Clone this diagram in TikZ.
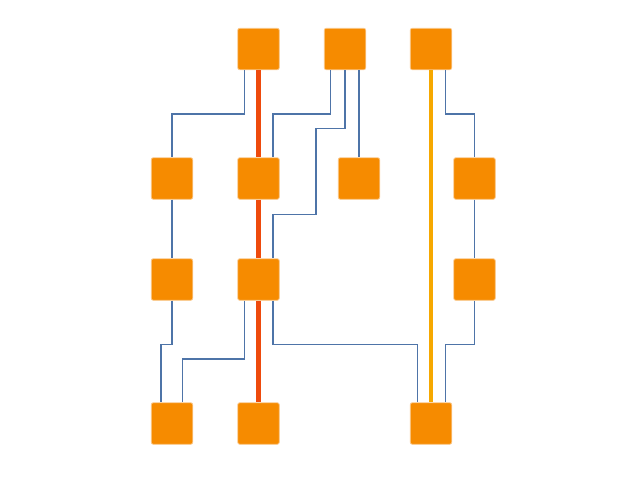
\documentclass[tikz,border=0pt]{standalone}
\usepackage{tikz}

\definecolor{boxorange}{RGB}{246,139,0}
\definecolor{boxedge}{RGB}{250,200,140}
\definecolor{trunkred}{RGB}{238,74,12}
\definecolor{trunkamber}{RGB}{246,168,0}
\definecolor{wireblue}{RGB}{78,116,168}

\tikzset{
  unit/.style={rectangle, fill=boxorange, draw=boxedge, line width=0.8pt,
    rounded corners=2pt, minimum size=41.5pt, inner sep=0pt},
  wire/.style={draw=wireblue, line width=1.5pt},
  trunk/.style={line width=4.5pt}
}

\begin{document}
\begin{tikzpicture}[x=1pt, y=-1pt]
  \useasboundingbox (0,0) rectangle (640,480);

  % top row
  \node[unit] (a1) at (258.5,49) {};
  \node[unit] (a2) at (345,49) {};
  \node[unit] (a3) at (431,49) {};

  % second row
  \node[unit] (b1) at (172,178.5) {};
  \node[unit] (b2) at (258.5,178.5) {};
  \node[unit] (b3) at (359,178.5) {};
  \node[unit] (b4) at (474.5,178.5) {};

  % third row
  \node[unit] (c1) at (172,279.5) {};
  \node[unit] (c2) at (258.5,279.5) {};
  \node[unit] (c4) at (474.5,279.5) {};

  % bottom row
  \node[unit] (d1) at (172,423.5) {};
  \node[unit] (d2) at (258.5,423.5) {};
  \node[unit] (d3) at (431,423.5) {};

  % thick trunks
  \draw[trunk, trunkred] (a1.south) -- (b2.north);
  \draw[trunk, trunkred] (b2.south) -- (c2.north);
  \draw[trunk, trunkred] (c2.south) -- (d2.north);
  \draw[trunk, trunkamber] (a3.south) -- (d3.north);

  % thin links
  \draw[wire] ([xshift=-14.2pt]a1.south) -- ++(0,44) -| (b1.north);
  \draw[wire] ([xshift=-14.3pt]a2.south) -- ++(0,44) -| ([xshift=14.5pt]b2.north);
  \draw[wire] (a2.south) |- (316,128.7) |- (273,214.3) -- ([xshift=14.5pt]c2.north);
  \draw[wire] ([xshift=14pt]a2.south) -- (b3.north);
  \draw[wire] ([xshift=14.7pt]a3.south) -- ++(0,44) -| (b4.north);
  \draw[wire] (b1.south) -- (c1.north);
  \draw[wire] (b4.south) -- (c4.north);
  \draw[wire] (c1.south) -- ++(0,44) -| ([xshift=-11pt]d1.north);
  \draw[wire] ([xshift=-14.2pt]c2.south) -- ++(0,58.5) -| ([xshift=10.7pt]d1.north);
  \draw[wire] ([xshift=14.5pt]c2.south) -- ++(0,44) -| ([xshift=-13.7pt]d3.north);
  \draw[wire] (c4.south) -- ++(0,44) -| ([xshift=14.7pt]d3.north);
\end{tikzpicture}
\end{document}
